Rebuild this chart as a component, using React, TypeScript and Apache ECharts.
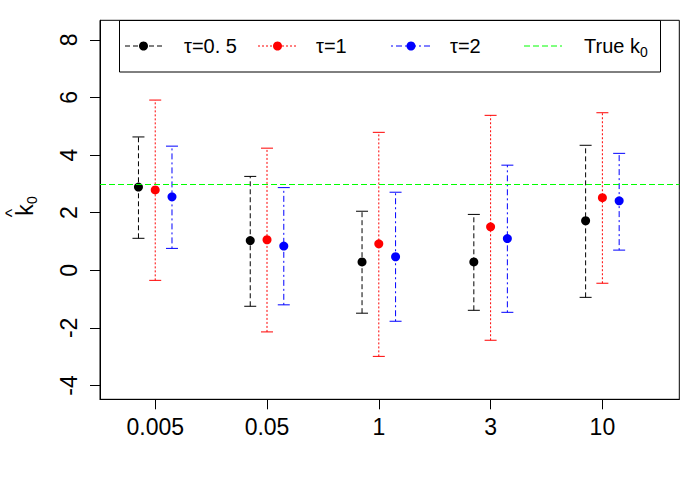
import { useEffect, useRef } from "react";
import * as echarts from "echarts";

const categories = ["0.005", "0.05", "1", "3", "10"];
const yTicks = [-4, -2, 0, 2, 4, 6, 8];
const xTicks = [1, 2, 3, 4, 5];
const groupOffsets = [-0.15, 0, 0.15];

const tau05Mean = [2.89, 1.03, 0.29, 0.29, 1.72];
const tau05Low = [1.11, -1.25, -1.49, -1.39, -0.94];
const tau05High = [4.63, 3.26, 2.05, 1.94, 4.34];

const tau1Mean = [2.79, 1.06, 0.92, 1.51, 2.52];
const tau1Low = [-0.35, -2.14, -2.99, -2.43, -0.45];
const tau1High = [5.91, 4.24, 4.79, 5.38, 5.47];

const tau2Mean = [2.55, 0.84, 0.47, 1.1, 2.41];
const tau2Low = [0.76, -1.2, -1.77, -1.46, 0.7];
const tau2High = [4.31, 2.87, 2.71, 3.65, 4.06];

const trueK0 = 3;

const FONT = "'Liberation Sans', Arial, sans-serif";

export default function App() {
  const ref = useRef<HTMLDivElement>(null);

  useEffect(() => {
    if (!ref.current) return;
    const chart = echarts.init(ref.current, null, { renderer: "svg" });

    const groups = [
      { name: "τ=0. 5", color: "#000000", dash: [5, 3], mean: tau05Mean, low: tau05Low, high: tau05High },
      { name: "τ=1", color: "#FF0000", dash: [2, 2], mean: tau1Mean, low: tau1Low, high: tau1High },
      { name: "τ=2", color: "#0000FF", dash: [2, 3, 6, 3], mean: tau2Mean, low: tau2Low, high: tau2High },
    ];

    const series: any[] = [];
    groups.forEach((g, gi) => {
      const errData = categories.map((_, i) => [xTicks[i] + groupOffsets[gi], g.low[i], g.high[i]]);
      series.push({
        type: "custom",
        name: g.name + " err",
        data: errData,
        encode: { x: 0, y: [1, 2] },
        silent: true,
        renderItem: (params: any, api: any) => {
          const x = api.value(0);
          const pLo = api.coord([x, api.value(1)]);
          const pHi = api.coord([x, api.value(2)]);
          const hw = 6;
          return {
            type: "group",
            children: [
              {
                type: "line",
                shape: { x1: pLo[0], y1: pLo[1], x2: pHi[0], y2: pHi[1] },
                style: { stroke: g.color, lineWidth: 1, lineDash: g.dash },
              },
              {
                type: "line",
                shape: { x1: pLo[0] - hw, y1: pLo[1], x2: pLo[0] + hw, y2: pLo[1] },
                style: { stroke: g.color, lineWidth: 1 },
              },
              {
                type: "line",
                shape: { x1: pHi[0] - hw, y1: pHi[1], x2: pHi[0] + hw, y2: pHi[1] },
                style: { stroke: g.color, lineWidth: 1 },
              },
            ],
          };
        },
        z: 2,
      });
      series.push({
        type: "scatter",
        name: g.name,
        data: categories.map((_, i) => [xTicks[i] + groupOffsets[gi], g.mean[i]]),
        symbol: "circle",
        symbolSize: 9,
        itemStyle: { color: g.color, opacity: 1 },
        z: 4,
      });
    });

    series.push({
      type: "line",
      name: "True k0",
      data: [],
      markLine: {
        silent: true,
        symbol: "none",
        label: { show: false },
        lineStyle: { color: "#00FF00", type: [6, 3], width: 1 },
        data: [{ yAxis: trueK0 }],
      },
      z: 3,
    });

    const legendY = 46;
    const legendItems = [
      { x1: 125, x2: 162, text: "τ=0. 5", tx: 184, color: "#000000", dash: [5, 3], marker: true },
      { x1: 258, x2: 297, text: "τ=1", tx: 316, color: "#FF0000", dash: [2, 2], marker: true },
      { x1: 391, x2: 431, text: "τ=2", tx: 450, color: "#0000FF", dash: [2, 3, 6, 3], marker: true },
      { x1: 524, x2: 562, text: "True k{sub|0}", tx: 584, color: "#00FF00", dash: [6, 3], marker: false },
    ];
    const legendChildren: any[] = [
      {
        type: "rect",
        shape: { x: 119.5, y: 20.5, width: 541, height: 51.5 },
        style: { fill: "#fff", stroke: "#000", lineWidth: 1 },
      },
    ];
    legendItems.forEach((it) => {
      legendChildren.push({
        type: "line",
        shape: { x1: it.x1, y1: legendY, x2: it.x2, y2: legendY },
        style: { stroke: it.color, lineWidth: 1, lineDash: it.dash },
      });
      if (it.marker) {
        legendChildren.push({
          type: "circle",
          shape: { cx: (it.x1 + it.x2) / 2, cy: legendY, r: 4.5 },
          style: { fill: it.color },
        });
      }
      legendChildren.push({
        type: "text",
        x: it.tx,
        y: legendY,
        style: {
          text: it.text,
          fill: "#000",
          font: `20px ${FONT}`,
          align: "left",
          verticalAlign: "middle",
          rich: {
            sub: { fontSize: 14, fontFamily: FONT, verticalAlign: "bottom", padding: [11, 0, 0, 0] },
          },
        },
      });
    });

    const yTitle = {
      type: "group",
      x: 25,
      y: 210,
      rotation: Math.PI / 2,
      children: [
        {
          type: "text",
          x: 0,
          y: 0,
          style: { text: "k", font: `23px ${FONT}`, fill: "#000", align: "center", verticalAlign: "middle" },
        },
        {
          type: "text",
          x: 10,
          y: 7,
          style: { text: "0", font: `14px ${FONT}`, fill: "#000", align: "center", verticalAlign: "middle" },
        },
        {
          type: "text",
          x: -3,
          y: -13,
          style: { text: "^", font: `18px ${FONT}`, fill: "#000", align: "center", verticalAlign: "middle" },
        },
      ],
    };

    chart.setOption({
      animation: false,
      backgroundColor: "#ffffff",
      grid: {
        left: 100,
        right: 20.7,
        top: 20.3,
        bottom: 100.7,
        show: true,
        borderColor: "#000",
        borderWidth: 1,
        backgroundColor: "transparent",
      },
      xAxis: {
        type: "value",
        min: 0.506,
        max: 5.688,
        axisLine: { show: true, onZero: false, lineStyle: { color: "#000", width: 1 } },
        axisTick: { show: true, length: 10, lineStyle: { color: "#000" }, customValues: xTicks },
        axisLabel: {
          show: true,
          customValues: xTicks,
          formatter: (v: number) => categories[Math.round(v) - 1] ?? "",
          fontSize: 23,
          fontFamily: FONT,
          color: "#000",
          margin: 16,
        },
        splitLine: { show: false },
      },
      yAxis: {
        type: "value",
        min: -4.48,
        max: 8.68,
        axisLine: { show: true, onZero: false, lineStyle: { color: "#000", width: 1 } },
        axisTick: { show: true, length: 10, lineStyle: { color: "#000" }, customValues: yTicks },
        axisLabel: {
          show: true,
          customValues: yTicks,
          rotate: 90,
          fontSize: 23,
          fontFamily: FONT,
          color: "#000",
          margin: 20,
        },
        splitLine: { show: false },
      },
      graphic: [{ type: "group", children: legendChildren, z: 10 }, yTitle],
      series,
    });

    return () => chart.dispose();
  }, []);

  return (
    <div
      ref={ref}
      style={{ position: "fixed", left: 0, top: 0, width: 700, height: 500, background: "#fff" }}
    />
  );
}
